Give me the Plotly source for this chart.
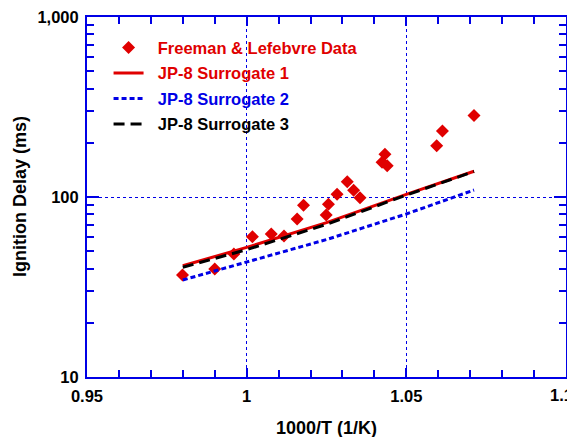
import plotly.graph_objects as go

# Data
exp_x = [0.9799, 0.990, 0.996, 1.0018, 1.0077, 1.0117, 1.0158, 1.0178, 1.0249, 1.0256,
         1.0283, 1.0315, 1.0335, 1.0355, 1.0424, 1.0433, 1.0440, 1.0595, 1.0613, 1.0712]
exp_y = [36.9, 39.8, 48.2, 60.2, 62.3, 60.7, 75.5, 89.9, 79.4, 91.0,
         103.5, 121.6, 109.0, 99.1, 155.9, 172.6, 149.3, 192.8, 232.7, 284.0]

s1_x = [0.980, 1.000, 1.025, 1.050, 1.0712]
s1_y = [41.5, 52.5, 72.0, 103.5, 139.0]

s2_x = [0.980, 1.000, 1.025, 1.050, 1.0712]
s2_y = [34.6, 43.4, 58.0, 80.5, 109.4]

s3_x = [0.980, 1.000, 1.025, 1.050, 1.0712]
s3_y = [40.7, 51.0, 70.5, 102.5, 138.6]

y_tickvals = [10, 100, 1000]
y_ticktext = ["10", "100", "1,000"]
y_minor = [20, 30, 40, 50, 60, 70, 80, 90, 200, 300, 400, 500, 600, 700, 800, 900]
x_tickvals = [0.95, 1.0, 1.05, 1.1]
x_ticktext = ["0.95", "1", "1.05", ""]
x_last_tick = 1.1
x_last_label = "1.1"

x_title = "1000/T (1/K)"
y_title = "Ignition Delay (ms)"

RED = "#e00000"
BLUE = "#0000e6"
FONT = "Liberation Sans, Arial, sans-serif"
PAD = "&nbsp;&nbsp;"

fig = go.Figure()
fig.add_trace(go.Scatter(x=exp_x, y=exp_y, mode="markers", legendgroup="a",
                         marker=dict(symbol="diamond", size=10, color=RED),
                         name=f"{PAD}<span style='color:{RED}'>Freeman &amp; Lefebvre Data</span>"))
fig.add_trace(go.Scatter(x=s1_x, y=s1_y, mode="lines", legendgroup="b",
                         line=dict(color=RED, width=3),
                         name=f"{PAD}<span style='color:{RED}'>JP-8 Surrogate 1</span>"))
fig.add_trace(go.Scatter(x=s2_x, y=s2_y, mode="lines", legendgroup="c",
                         line=dict(color=BLUE, width=3, dash="5px,3px"),
                         name=f"{PAD}<span style='color:{BLUE}'>JP-8 Surrogate 2</span>"))
fig.add_trace(go.Scatter(x=s3_x, y=s3_y, mode="lines", legendgroup="d",
                         line=dict(color="black", width=3, dash="11px,6px"),
                         name=f"{PAD}<span style='color:black'>JP-8 Surrogate 3</span>"))

axis_common = dict(
    tickmode="array", ticks="inside", tickwidth=2, tickcolor=BLUE,
    showline=True, linecolor=BLUE, linewidth=2, mirror="ticks",
    showgrid=True, gridcolor=BLUE, griddash="dot", gridwidth=1,
    zeroline=False, automargin=False, ticklabeloverflow="allow",
    tickfont=dict(size=16.5, family=FONT, weight="bold", color="black"),
)

fig.update_layout(
    width=567, height=429,
    margin=dict(l=79, r=9, t=9, b=60),
    paper_bgcolor="white", plot_bgcolor="white",
    font=dict(family=FONT, size=16, color="black"),
    showlegend=True,
    legend=dict(x=0.045, y=0.963, xanchor="left", yanchor="top",
                bgcolor="rgba(0,0,0,0)", font=dict(size=16.5, family=FONT, weight="bold"),
                tracegroupgap=1),
    xaxis=dict(
        range=[0.95, 1.1], tickvals=x_tickvals, ticktext=x_ticktext, ticklen=9,
        ticklabelstandoff=3,
        minor=dict(ticks="inside", ticklen=7, tickwidth=2, tickcolor=BLUE, dtick=0.01, tick0=0.95, showgrid=False),
        **axis_common,
    ),
    yaxis=dict(
        type="log", range=[1, 3], tickvals=y_tickvals, ticktext=y_ticktext, ticklen=12,
        ticklabelstandoff=3,
        minor=dict(ticks="inside", ticklen=7, tickwidth=2, tickcolor=BLUE, tickvals=y_minor, showgrid=False),
        **axis_common,
    ),
    annotations=[
        dict(text=f"<b>{x_last_label}</b>", xref="x", yref="paper", x=x_last_tick, y=0,
             xanchor="right", yanchor="middle", xshift=9, yshift=-18, showarrow=False,
             font=dict(size=16.5, family=FONT, color="black")),
        dict(text=f"<b>{x_title}</b>", xref="paper", yref="paper", x=0.5, y=0,
             xanchor="center", yanchor="middle", yshift=-51, showarrow=False,
             font=dict(size=18, family=FONT, color="black")),
        dict(text=f"<b>{y_title}</b>", xref="paper", yref="paper", x=0, y=0.5,
             xanchor="center", yanchor="middle", xshift=-67, textangle=-90, showarrow=False,
             font=dict(size=18, family=FONT, color="black")),
    ],
)

fig.write_html("out.html")
